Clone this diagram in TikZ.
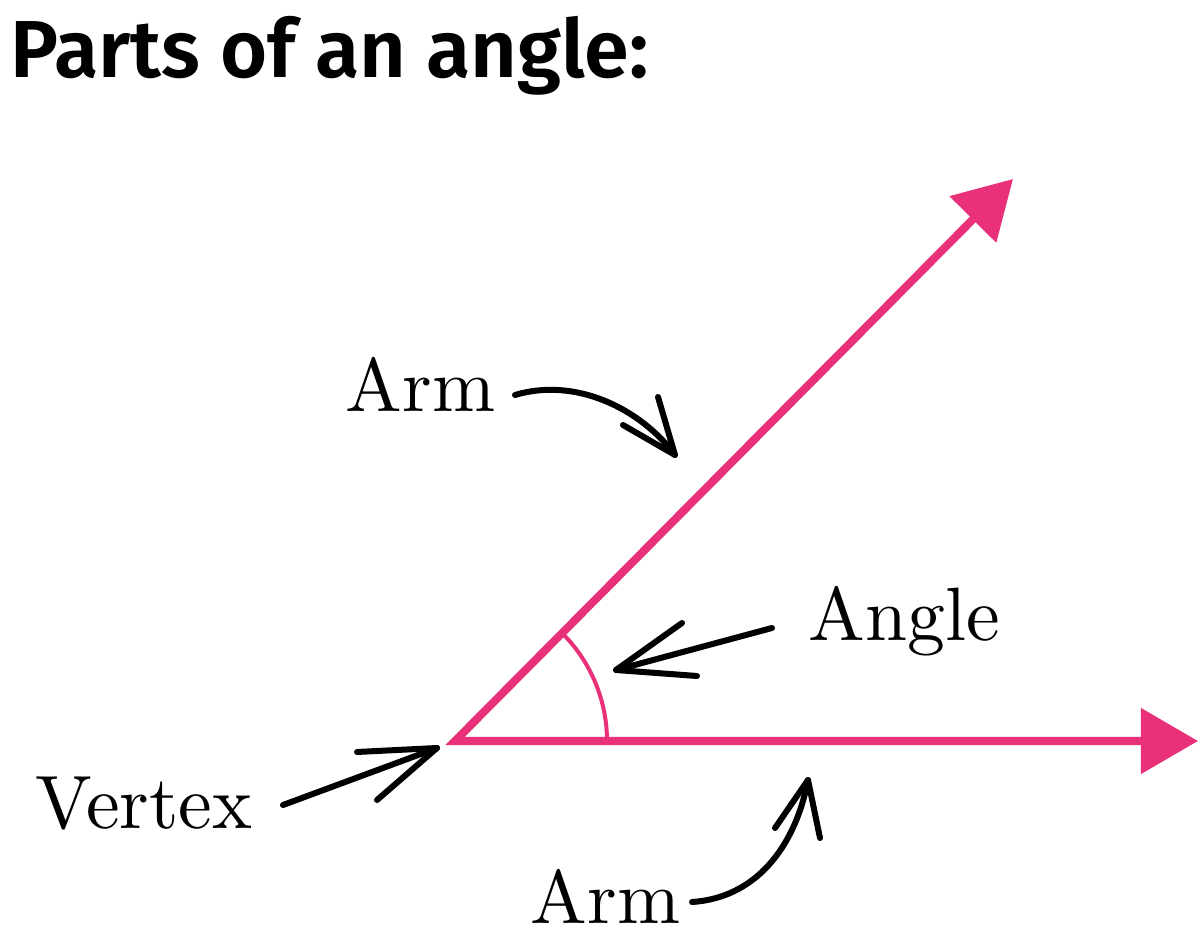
\documentclass[tikz,border=0pt]{standalone}
\usepackage{fontspec}
\newfontfamily\titlefont{Fira Sans SemiBold}
\newfontfamily\labelfont{lmroman10-regular}[Extension=.otf]
\usetikzlibrary{arrows.meta}
\definecolor{armpink}{RGB}{233,49,121}
\tikzset{
  armline/.style={draw=armpink, line width=0.08cm, line join=miter},
  arcline/.style={draw=armpink, line width=0.04cm},
  pointer/.style={draw=black, line width=0.06cm, line cap=round, line join=round},
  label/.style={inner sep=0pt, anchor=base west, font=\labelfont\fontsize{21.5}{25}\selectfont},
}
\begin{document}
\begin{tikzpicture}[x=0.01cm, y=0.01cm]
\useasboundingbox (0,0) rectangle (1200,933);
% title
\node[inner sep=0pt, anchor=base west, font=\titlefont\fontsize{23}{28}\selectfont] (title) at (10,855) {Parts of an angle:};
% angle
\coordinate (V) at (455,192);
\coordinate (U) at (1013,754);
\coordinate (H) at (1198,192);
\draw[armline, {Triangle[length=0.57cm,width=0.64cm]}-{Triangle[length=0.57cm,width=0.64cm]}] (U) -- (V) -- (H);
\draw[arcline] (V) ++(0:152) arc[start angle=0, end angle=45, radius=1.52cm];
% labels
\node[label] (armA) at (345,521) {Arm};
\node[label] (angle) at (808,293) {Angle};
\node[label] (vertex) at (35,105) {Vertex};
\node[label] (armB) at (530,10) {Arm};
% pointers
\coordinate (a1s) at (515,538);
\coordinate (a1t) at (675,478);
\draw[pointer] (a1s) .. controls (575,556) and (640,525) .. (a1t);
\draw[pointer] (658,536) -- (a1t) -- (623,508);
\coordinate (a2s) at (772,305);
\coordinate (a2t) at (616,263);
\draw[pointer] (a2s) -- (a2t);
\draw[pointer] (682,310) -- (a2t) -- (697,257);
\coordinate (a3s) at (283,128);
\coordinate (a3t) at (437,185);
\draw[pointer] (a3s) -- (a3t);
\draw[pointer] (357,181) -- (a3t) -- (377,133);
\coordinate (a4s) at (692,31);
\coordinate (a4t) at (808,153);
\draw[pointer] (a4s) .. controls (755,35) and (795,85) .. (a4t);
\draw[pointer] (775,105) -- (a4t) -- (820,95);
\end{tikzpicture}
\end{document}
